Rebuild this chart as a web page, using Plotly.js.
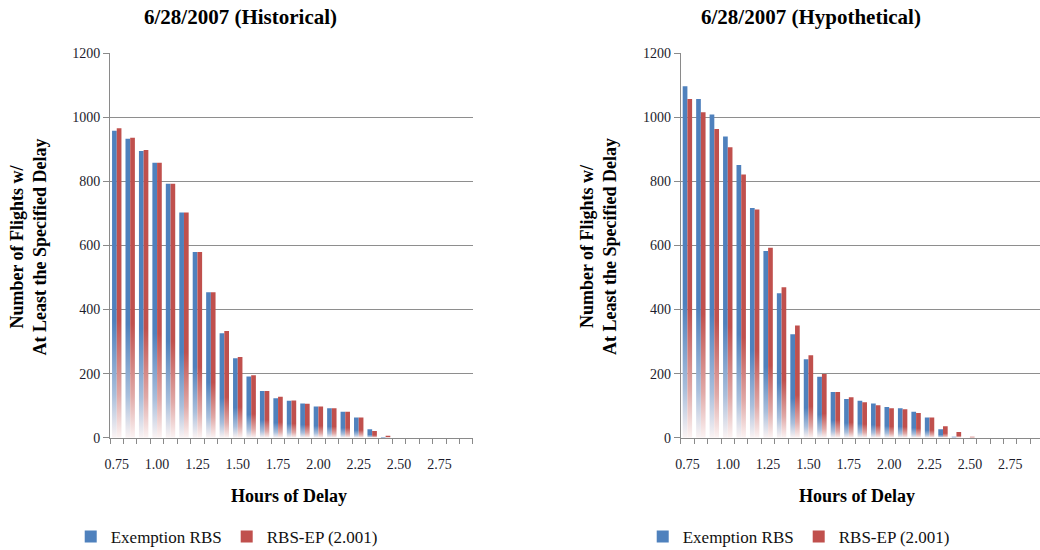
<!DOCTYPE html>
<html>
<head>
<meta charset="utf-8">
<script src="https://cdn.plot.ly/plotly-3.0.1.min.js"></script>
<style>
html,body{margin:0;padding:0;background:#fff;}
#chart{width:1040px;height:550px;}
</style>
</head>
<body>
<div id="chart"></div>
<script>
// Hours of delay (category positions, 5-minute steps)
const hours = [0.75, 0.8333, 0.9167, 1.0, 1.0833, 1.1667, 1.25, 1.3333, 1.4167, 1.5,
  1.5833, 1.6667, 1.75, 1.8333, 1.9167, 2.0, 2.0833, 2.1667, 2.25, 2.3333,
  2.4167, 2.5, 2.5833, 2.6667, 2.75, 2.8333, 2.9167];
const tickVals = [0.75, 1.0, 1.25, 1.5, 1.75, 2.0, 2.25, 2.5, 2.75];
const tickText = ["0.75", "1.00", "1.25", "1.50", "1.75", "2.00", "2.25", "2.50", "2.75"];

// 6/28/2007 (Historical)
const histExemption = [958, 933, 895, 858, 793, 703, 580, 454, 326, 248, 191, 146, 123, 115, 107, 97, 92, 81, 63, 26, 2, 0, 0, 0, 0, 0, 0];
const histRbsEp     = [966, 936, 898, 858, 793, 703, 580, 454, 333, 252, 195, 146, 128, 116, 106, 97, 92, 81, 63, 21, 6, 0, 0, 0, 0, 0, 0];
// 6/28/2007 (Hypothetical)
const hypoExemption = [1097, 1057, 1009, 940, 851, 717, 583, 451, 323, 245, 190, 143, 121, 115, 107, 96, 92, 81, 63, 26, 3, 0, 0, 0, 0, 0, 0];
const hypoRbsEp     = [1057, 1016, 964, 907, 822, 712, 593, 470, 350, 257, 199, 143, 126, 111, 101, 92, 89, 77, 63, 36, 18, 3, 0, 0, 0, 0, 0];

const seriesNames = ["Exemption RBS", "RBS-EP (2.001)"];
const BLUE = "#4F81BD", RED = "#C0504D";
const FONT = "'Liberation Serif', 'Times New Roman', 'DejaVu Serif', serif";

function bar(x, y, name, color, xa, ya, legend) {
  return {type: "bar", x: x, y: y, name: name, xaxis: xa, yaxis: ya, legend: legend,
    marker: {color: color, line: {width: 0}}, hoverinfo: "x+y+name"};
}

const data = [
  bar(hours, histExemption, seriesNames[0], BLUE, "x", "y", "legend"),
  bar(hours, histRbsEp, seriesNames[1], RED, "x", "y", "legend"),
  bar(hours, hypoExemption, seriesNames[0], BLUE, "x2", "y2", "legend2"),
  bar(hours, hypoRbsEp, seriesNames[1], RED, "x2", "y2", "legend2")
];

function xAxis(domain, range, anchor) {
  return {domain: domain, range: range, anchor: anchor, tickmode: "array",
    tickvals: tickVals, ticktext: tickText, ticks: "", ticklabelstandoff: 14,
    showline: true, linecolor: "#8a8a8a", linewidth: 1, showgrid: false, zeroline: false,
    tickfont: {family: FONT, size: 14, color: "#1c1c2c"},
    minor: {ticks: "outside", ticklen: 5, tickcolor: "#8a8a8a", tickwidth: 1,
      tick0: 0.708333, dtick: 0.0833333, showgrid: false}};
}
function yAxis(domain, anchor) {
  return {domain: domain, range: [0, 1200], anchor: anchor, dtick: 200, tick0: 0,
    ticks: "outside", ticklen: 6, tickcolor: "#8a8a8a", showline: true,
    linecolor: "#8a8a8a", linewidth: 1, showgrid: true, gridcolor: "#8e8e8e",
    gridwidth: 1, zeroline: false,
    tickfont: {family: FONT, size: 14, color: "#1c1c2c"}};
}

const yDom = [0.2042, 0.9031];
const layout = {
  width: 1040, height: 550, margin: {l: 0, r: 0, t: 0, b: 0, autoexpand: false},
  paper_bgcolor: "#fff", plot_bgcolor: "#fff",
  barmode: "group", bargap: 0.3, bargroupgap: 0,
  font: {family: FONT, color: "#111"},
  xaxis: xAxis([0.1058, 0.4548], [0.708333, 2.958333], "y"),
  yaxis: yAxis(yDom, "x"),
  xaxis2: xAxis([0.6545, 1.0], [0.708333, 2.9343], "y2"),
  yaxis2: yAxis(yDom, "x2"),
  showlegend: true,
  legend: {orientation: "h", x: 0.068, xanchor: "left", y: 13/550, yanchor: "middle",
    font: {family: FONT, size: 17, color: "#111"}, itemwidth: 30, bgcolor: "rgba(0,0,0,0)"},
  legend2: {orientation: "h", x: 0.618, xanchor: "left", y: 13/550, yanchor: "middle",
    font: {family: FONT, size: 17, color: "#111"}, itemwidth: 30, bgcolor: "rgba(0,0,0,0)"},
  annotations: [
    {text: "<b>6/28/2007 (Historical)</b>", xref: "paper", yref: "paper", x: 240/1040, y: (550-17)/550,
      xanchor: "center", yanchor: "middle", showarrow: false, font: {family: FONT, size: 21, color: "#000"}},
    {text: "<b>6/28/2007 (Hypothetical)</b>", xref: "paper", yref: "paper", x: 811/1040, y: (550-17)/550,
      xanchor: "center", yanchor: "middle", showarrow: false, font: {family: FONT, size: 21, color: "#000"}},
    {text: "<b>Number of Flights w/<br>At Least the Specified Delay</b>", xref: "paper", yref: "paper",
      x: 27.5/1040, y: (550-247)/550, xanchor: "center", yanchor: "middle", textangle: -90,
      showarrow: false, font: {family: FONT, size: 18, color: "#000"}},
    {text: "<b>Number of Flights w/<br>At Least the Specified Delay</b>", xref: "paper", yref: "paper",
      x: 598/1040, y: (550-247)/550, xanchor: "center", yanchor: "middle", textangle: -90,
      showarrow: false, font: {family: FONT, size: 18, color: "#000"}},
    {text: "<b>Hours of Delay</b>", xref: "paper", yref: "paper", x: 289/1040, y: (550-496)/550,
      xanchor: "center", yanchor: "middle", showarrow: false, font: {family: FONT, size: 18, color: "#000"}},
    {text: "<b>Hours of Delay</b>", xref: "paper", yref: "paper", x: 857/1040, y: (550-496)/550,
      xanchor: "center", yanchor: "middle", showarrow: false, font: {family: FONT, size: 18, color: "#000"}}
  ]
};

function addGradients(gd) {
  const svg = gd.querySelector(".main-svg");
  if (!svg) return;
  const NS = "http://www.w3.org/2000/svg";
  let defs = svg.querySelector("defs");
  if (!defs) { defs = document.createElementNS(NS, "defs"); svg.insertBefore(defs, svg.firstChild); }
  function grad(id, color, light) {
    const g = document.createElementNS(NS, "linearGradient");
    g.setAttribute("id", id);
    g.setAttribute("x1", "0"); g.setAttribute("y1", "0");
    g.setAttribute("x2", "0"); g.setAttribute("y2", "1");
    [[0, color], [0.62, color], [0.86, light], [1, "#fbf3f3"]].forEach(function (s) {
      const st = document.createElementNS(NS, "stop");
      st.setAttribute("offset", s[0]);
      st.setAttribute("stop-color", s[1]);
      g.appendChild(st);
    });
    defs.appendChild(g);
  }
  grad("gradBlue", BLUE, "#a9bfdc");
  grad("gradRed", RED, "#e0a9a7");
  gd.querySelectorAll(".barlayer .point path").forEach(function (p) {
    const f = (p.style.fill || "").replace(/\s/g, "");
    if (f === "rgb(79,129,189)") p.style.fill = "url(#gradBlue)";
    else if (f === "rgb(192,80,77)") p.style.fill = "url(#gradRed)";
  });
}

Plotly.newPlot("chart", data, layout, {staticPlot: true, displayModeBar: false})
  .then(addGradients);
</script>
</body>
</html>
